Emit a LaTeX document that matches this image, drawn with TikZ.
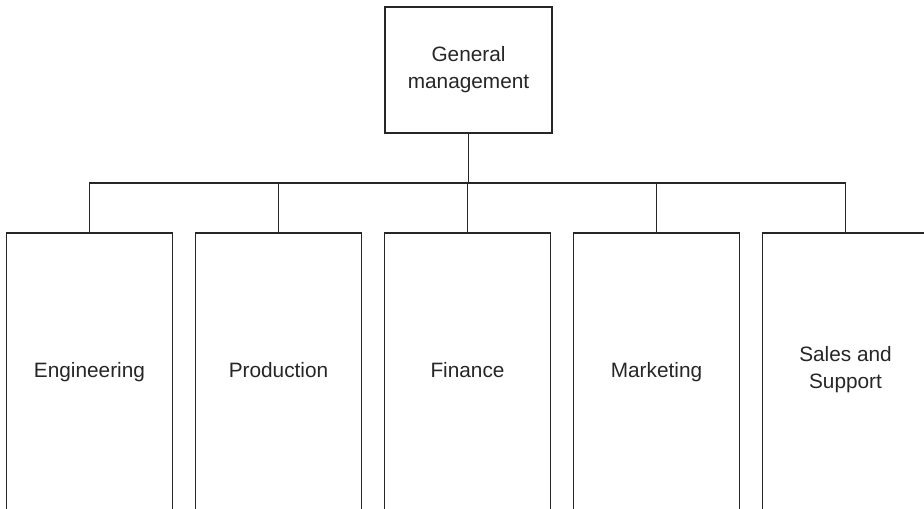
\documentclass[tikz,border=0pt]{standalone}
\usepackage{fontspec}
\setmainfont{Liberation Sans}

\begin{document}
\begin{tikzpicture}[x=0.5pt,y=-0.5pt,
	unit/.style={draw=black!85,line width=0.6pt,text=black!85,align=center,font=\fontsize{10.4}{13.5}\selectfont,inner sep=0pt},
	head/.style={unit,minimum width=83.5pt,minimum height=63pt},
	dept/.style={unit,minimum width=82.75pt,minimum height=139pt,execute at begin node=\strut}]
	\useasboundingbox (0,0) rectangle (924,508);
	\clip (0,0) rectangle (924,508);
	\draw (468.5,70) node (gm) [head] {General\\management};
	\draw (89.5,372) node (eng) [dept] {Engineering};
	\draw (278.5,372) node (prd) [dept] {Production};
	\draw (467.5,372) node (fin) [dept] {Finance};
	\draw (656.5,372) node (mkt) [dept] {Marketing};
	\draw (845.5,372) node (sal) [dept] {Sales and\\Support};
	
	\coordinate (bus) at (468.5,183);
	\draw[line width=0.6pt,black!85] (gm.south) -- (bus);
	\draw[line width=0.6pt,black!85] (eng.north) -- (eng.north |- bus) -- (sal.north |- bus) -- (sal.north);
	\foreach \n in {prd,fin,mkt}
		\draw[line width=0.6pt,black!85] (\n.north) -- (\n.north |- bus);
\end{tikzpicture}
\end{document}
